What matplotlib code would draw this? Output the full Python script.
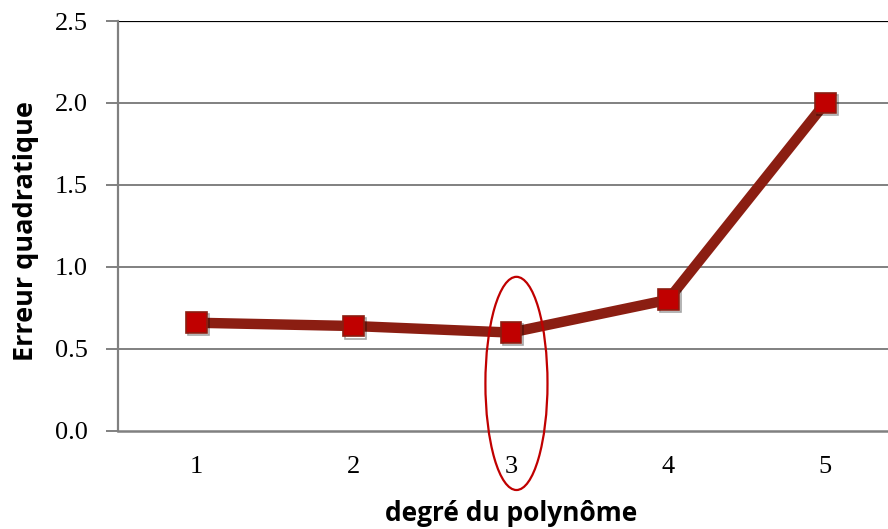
import matplotlib
matplotlib.use("Agg")
import matplotlib.pyplot as plt
import matplotlib.patheffects as pe
from matplotlib.patches import Ellipse

# polynomial degree vs. squared error
degres = [1, 2, 3, 4, 5]
erreur = [0.66, 0.64, 0.60, 0.80, 2.00]
y_ticks = [0.0, 0.5, 1.0, 1.5, 2.0, 2.5]
best_degre = 3

fig = plt.figure(figsize=(8.88, 5.29), dpi=100)
ax = fig.add_axes([0.1329, 0.1853, 0.885, 0.775])

ax.set_xlim(0.5, 5.5)
ax.set_ylim(0, 2.5)

# horizontal gridlines, top one in black
for v in y_ticks[1:]:
    ax.axhline(v, color="black" if v == y_ticks[-1] else "#808080",
               lw=1.6 if v == y_ticks[-1] else 1.4, zorder=1)

ax.plot(degres, erreur, color="#8B1E12", lw=7.5, solid_capstyle="butt",
        zorder=3)
ax.plot(degres, erreur, ls="none", marker="s", ms=15, mfc="#C00000",
        mec="#8B1E12", mew=1.2, zorder=4,
        path_effects=[pe.SimpleLineShadow(offset=(1.5, -1.5), alpha=0.35),
                      pe.Normal()])

# circle around the best degree
ax.add_patch(Ellipse((best_degre + 0.035, 0.29), 0.395, 1.3,
                     fill=False, ec="#C00000", lw=1.6, zorder=5,
                     clip_on=False))

for s in ["top", "right"]:
    ax.spines[s].set_visible(False)
ax.spines["left"].set_color("#808080")
ax.spines["left"].set_linewidth(1.6)
ax.spines["bottom"].set_color("#808080")
ax.spines["bottom"].set_linewidth(1.8)
ax.spines["left"].set_zorder(2)

ax.set_yticks(y_ticks)
ax.set_yticklabels([f"{v:.1f}" for v in y_ticks])
ax.set_xticks(degres)
ax.set_xticklabels([str(d) for d in degres])
ax.tick_params(axis="y", length=9, width=1.4, color="#808080", pad=13,
               labelsize=19)
ax.tick_params(axis="x", length=0, pad=18, labelsize=19)
for lab in ax.get_xticklabels() + ax.get_yticklabels():
    lab.set_fontfamily("Liberation Serif")

ax.set_xlabel("degré du polynôme", fontsize=19, fontweight="bold",
              fontfamily="Open Sans", labelpad=16)
ax.set_ylabel("Erreur quadratique", fontsize=19.5, fontweight="bold",
              fontfamily="Open Sans", labelpad=10)
ax.yaxis.set_label_coords(-0.100, 0.487)

fig.savefig("out.png", dpi=100)
